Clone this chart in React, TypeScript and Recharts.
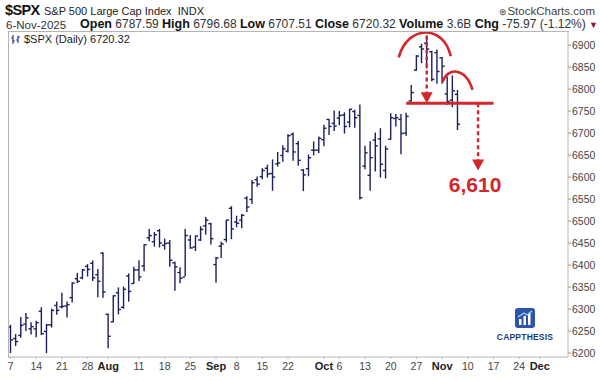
import { ComposedChart, Bar, XAxis, YAxis, ReferenceLine, ReferenceDot } from 'recharts';

const dates = [
  '2025-07-07', '2025-07-08', '2025-07-09', '2025-07-10', '2025-07-11',
  '2025-07-14', '2025-07-15', '2025-07-16', '2025-07-17', '2025-07-18',
  '2025-07-21', '2025-07-22', '2025-07-23', '2025-07-24', '2025-07-25',
  '2025-07-28', '2025-07-29', '2025-07-30', '2025-07-31', '2025-08-01',
  '2025-08-04', '2025-08-05', '2025-08-06', '2025-08-07', '2025-08-08',
  '2025-08-11', '2025-08-12', '2025-08-13', '2025-08-14', '2025-08-15',
  '2025-08-18', '2025-08-19', '2025-08-20', '2025-08-21', '2025-08-22',
  '2025-08-25', '2025-08-26', '2025-08-27', '2025-08-28', '2025-08-29',
  '2025-09-02', '2025-09-03', '2025-09-04', '2025-09-05',
  '2025-09-08', '2025-09-09', '2025-09-10', '2025-09-11', '2025-09-12',
  '2025-09-15', '2025-09-16', '2025-09-17', '2025-09-18', '2025-09-19',
  '2025-09-22', '2025-09-23', '2025-09-24', '2025-09-25', '2025-09-26',
  '2025-09-29', '2025-09-30', '2025-10-01', '2025-10-02', '2025-10-03',
  '2025-10-06', '2025-10-07', '2025-10-08', '2025-10-09', '2025-10-10',
  '2025-10-13', '2025-10-14', '2025-10-15', '2025-10-16', '2025-10-17',
  '2025-10-20', '2025-10-21', '2025-10-22', '2025-10-23', '2025-10-24',
  '2025-10-27', '2025-10-28', '2025-10-29', '2025-10-30', '2025-10-31',
  '2025-11-03', '2025-11-04', '2025-11-05', '2025-11-06',
];

const opens = [
  6259, 6233, 6240, 6266, 6255, 6255, 6295, 6249, 6264, 6308,
  6305, 6307, 6326, 6369, 6371, 6397, 6404, 6378, 6427, 6288,
  6271, 6337, 6304, 6375, 6358, 6389, 6398, 6462, 6453, 6478,
  6445, 6450, 6405, 6383, 6373, 6457, 6441, 6457, 6489, 6494,
  6401, 6443, 6458, 6529, 6498, 6502, 6552, 6549, 6594, 6601,
  6620, 6608, 6630, 6649, 6659, 6697, 6676, 6616, 6619, 6661,
  6661, 6685, 6731, 6722, 6734, 6741, 6725, 6749, 6740, 6625,
  6604, 6684, 6687, 6615, 6686, 6733, 6731, 6700, 6773, 6843,
  6896, 6904, 6885, 6883, 6871, 6789, 6775, 6788,
];

const highs = [
  6263, 6242, 6281, 6290, 6269, 6272, 6303, 6265, 6300, 6316,
  6336, 6316, 6360, 6381, 6390, 6401, 6409, 6390, 6428, 6288,
  6330, 6348, 6350, 6380, 6395, 6410, 6446, 6481, 6474, 6481,
  6459, 6456, 6407, 6394, 6481, 6467, 6466, 6487, 6508, 6495,
  6417, 6452, 6502, 6533, 6511, 6515, 6555, 6592, 6600, 6619,
  6627, 6639, 6656, 6671, 6696, 6700, 6681, 6617, 6650, 6680,
  6691, 6718, 6731, 6750, 6749, 6746, 6754, 6752, 6764, 6670,
  6680, 6700, 6710, 6670, 6744, 6742, 6742, 6745, 6808, 6876,
  6902, 6920, 6886, 6889, 6872, 6827, 6830, 6797,
];

const lows = [
  6201, 6217, 6236, 6251, 6243, 6237, 6242, 6201, 6259, 6288,
  6303, 6282, 6316, 6360, 6369, 6375, 6365, 6328, 6327, 6212,
  6271, 6289, 6302, 6318, 6358, 6365, 6387, 6455, 6443, 6441,
  6436, 6397, 6343, 6360, 6376, 6438, 6433, 6456, 6470, 6448,
  6361, 6417, 6453, 6460, 6487, 6485, 6522, 6540, 6579, 6596,
  6600, 6570, 6625, 6636, 6657, 6638, 6627, 6569, 6603, 6650,
  6656, 6671, 6697, 6706, 6719, 6700, 6714, 6713, 6550, 6619,
  6570, 6614, 6600, 6598, 6686, 6716, 6653, 6695, 6773, 6843,
  6860, 6848, 6819, 6813, 6813, 6765, 6760, 6708,
];

const closes = [
  6230, 6226, 6263, 6280, 6260, 6269, 6244, 6264, 6297, 6297,
  6306, 6310, 6359, 6363, 6389, 6390, 6371, 6363, 6339, 6238,
  6330, 6299, 6345, 6340, 6389, 6373, 6446, 6467, 6469, 6450,
  6449, 6411, 6396, 6370, 6467, 6439, 6466, 6481, 6502, 6460,
  6416, 6448, 6502, 6482, 6495, 6513, 6532, 6587, 6584, 6615,
  6607, 6600, 6632, 6664, 6694, 6657, 6638, 6605, 6644, 6661,
  6688, 6711, 6715, 6716, 6740, 6715, 6754, 6735, 6553, 6655,
  6644, 6671, 6629, 6664, 6735, 6735, 6699, 6738, 6792, 6875,
  6891, 6891, 6822, 6840, 6852, 6772, 6796, 6720,
];

// empty trading days to the right of the last bar
const futureDates = [
  '2025-11-07', '2025-11-10', '2025-11-11', '2025-11-12', '2025-11-13', '2025-11-14',
  '2025-11-17', '2025-11-18', '2025-11-19', '2025-11-20', '2025-11-21',
  '2025-11-24', '2025-11-25', '2025-11-26', '2025-11-28',
  '2025-12-01', '2025-12-02', '2025-12-03', '2025-12-04', '2025-12-05', '2025-12-08',
];

const tickDates = [
  '2025-07-07', '2025-07-14', '2025-07-21', '2025-07-28', '2025-08-01', '2025-08-11',
  '2025-08-18', '2025-08-25', '2025-09-02', '2025-09-08', '2025-09-15', '2025-09-22',
  '2025-10-01', '2025-10-06', '2025-10-13', '2025-10-20', '2025-10-27', '2025-11-03',
  '2025-11-10', '2025-11-17', '2025-11-24', '2025-12-01',
];
const tickLabels = [
  '7', '14', '21', '28', 'Aug', '11', '18', '25', 'Sep', '8', '15', '22',
  'Oct', '6', '13', '20', '27', 'Nov', '10', '17', '24', 'Dec',
];
const yTicks = [6200, 6250, 6300, 6350, 6400, 6450, 6500, 6550, 6600, 6650, 6700, 6750, 6800, 6850, 6900];

// annotation levels
const supportLevel = 6768;
const targetLevel = 6610;
const targetLabel = '6,610';

const RED = '#d3262a';
const NAVY = '#1b1f5e';
const FONT = 'Arial, "Liberation Sans", sans-serif';

const chartData = [
  ...dates.map((d, i) => ({ d, hl: [lows[i], highs[i]], o: opens[i], h: highs[i], l: lows[i], c: closes[i] })),
  ...futureDates.map((d) => ({ d })),
];

const OhlcShape = (props: any) => {
  const { x, y, width, height, payload } = props;
  if (!payload || payload.o == null || y == null || isNaN(y)) return null;
  const top = Math.min(y, y + height);
  const bot = Math.max(y, y + height);
  const k = (bot - top) / (payload.h - payload.l || 1);
  const cx = x + width / 2;
  const oy = top + (payload.h - payload.o) * k;
  const cy = top + (payload.h - payload.c) * k;
  return (
    <g stroke={NAVY} strokeWidth={1.4}>
      <line x1={cx} x2={cx} y1={top - 0.5} y2={bot + 0.5} />
      <line x1={cx - 2.6} x2={cx} y1={oy} y2={oy} />
      <line x1={cx} x2={cx + 2.6} y1={cy} y2={cy} />
    </g>
  );
};

const XTick = ({ x, y, payload }: any) => {
  const label = tickLabels[tickDates.indexOf(payload.value)];
  const bold = isNaN(Number(label));
  return (
    <text x={x} y={y + 9} textAnchor="middle" fontSize={bold ? 11 : 10.5} fontWeight={bold ? 700 : 400}
      fill={bold ? '#222' : '#444'} fontFamily={FONT}>
      {label}
    </text>
  );
};

const arrowHead = ({ cx, cy }: any) => (
  <path d={`M${cx - 6},${cy - 11} L${cx + 6},${cy - 11} L${cx},${cy} Z`} fill={RED} />
);

const bigArc = ({ cx, cy }: any) => (
  <path d={`M${cx - 28},${cy + 25} C${cx - 19},${cy - 8} ${cx + 17},${cy - 8} ${cx + 24},${cy + 24}`}
    fill="none" stroke={RED} strokeWidth={2.6} />
);

const smallArc = ({ cx, cy }: any) => (
  <path d={`M${cx - 15},${cy + 10} C${cx - 10},${cy - 5} ${cx + 8},${cy - 5} ${cx + 15},${cy + 18}`}
    fill="none" stroke={RED} strokeWidth={2.6} />
);

const targetText = ({ cx, cy }: any) => (
  <text x={cx - 3} y={cy} textAnchor="middle" dominantBaseline="central" fontSize={21} fontWeight={700}
    fill={RED} fontFamily={FONT}>
    {targetLabel}
  </text>
);

function Header() {
  const b = { fontWeight: 700, color: '#111', fontSize: 12.5 } as const;
  return (
    <>
      <div style={{ position: 'absolute', left: 5, top: 2, fontSize: 14.5, fontWeight: 700, color: '#111', letterSpacing: -0.6 }}>
        $SPX
      </div>
      <div style={{ position: 'absolute', left: 44, top: 5, fontSize: 11, color: '#222' }}>
        S&amp;P 500 Large Cap Index&nbsp;&nbsp;INDX
      </div>
      <div style={{ position: 'absolute', right: 5, top: 5, fontSize: 11.5, color: '#444' }}>
        <span style={{ fontSize: 9 }}>⊛</span>StockCharts.com
      </div>
      <div style={{ position: 'absolute', left: 6, top: 19, fontSize: 11.5, color: '#333', whiteSpace: 'nowrap' }}>
        6-Nov-2025
      </div>
      <div style={{ position: 'absolute', right: 2, top: 17, fontSize: 12, color: '#333', whiteSpace: 'nowrap' }}>
        <span style={b}>Open</span> 6787.59{' '}
        <span style={b}>High</span> 6796.68{' '}
        <span style={b}>Low</span> 6707.51{' '}
        <span style={b}>Close</span> 6720.32{' '}
        <span style={b}>Volume</span> 3.6B{' '}
        <span style={b}>Chg</span> -75.97 (-1.12%){' '}
        <span style={{ color: '#8a1538', fontSize: 9 }}>▼</span>
      </div>
    </>
  );
}

function Logo() {
  return (
    <div style={{ position: 'absolute', left: 494, top: 308, width: 62, textAlign: 'center' }}>
      <svg width={20} height={20} viewBox="0 0 20 20" style={{ display: 'block', margin: '0 auto' }}>
        <rect x={0} y={0} width={20} height={20} rx={3} fill="#2c55a8" />
        <rect x={4} y={11} width={2.5} height={6} fill="#fff" />
        <rect x={8.5} y={8} width={2.5} height={9} fill="#fff" />
        <rect x={13} y={5} width={2.5} height={12} fill="#fff" />
        <path d="M3,9 L9,5 L12,7 L17,3" stroke="#9fd0ff" strokeWidth={1.3} fill="none" />
      </svg>
      <div style={{ fontSize: 8.5, fontWeight: 700, color: '#1e3c7c', letterSpacing: 0.2, marginTop: 4 }}>
        CAPPTHESIS
      </div>
    </div>
  );
}

export default function App() {
  return (
    <div style={{ position: 'absolute', left: 0, top: 0, width: 600, height: 381, background: '#fff', fontFamily: FONT, overflow: 'hidden' }}>
      <Header />
      <div style={{ position: 'absolute', left: 0, top: 0 }}>
        <ComposedChart width={600} height={381} data={chartData} margin={{ top: 31, right: 0, bottom: 0, left: 8 }}>
          <XAxis
            dataKey="d"
            ticks={tickDates}
            interval={0}
            tick={<XTick />}
            height={24}
            axisLine={{ stroke: '#b5b5b5' }}
            tickLine={{ stroke: '#b5b5b5' }}
            tickSize={2}
          />
          <YAxis
            orientation="right"
            domain={[6191, 6932]}
            ticks={yTicks}
            width={32}
            allowDataOverflow
            tick={{ fontSize: 10.5, fill: '#444', fontFamily: FONT }}
            axisLine={{ stroke: '#b5b5b5' }}
            tickLine={{ stroke: '#999' }}
            tickSize={3}
            tickMargin={1}
          />
          <Bar dataKey="hl" shape={<OhlcShape />} isAnimationActive={false} />
          <ReferenceLine
            segment={[{ x: '2025-10-23', y: supportLevel }, { x: '2025-11-17', y: supportLevel }]}
            stroke={RED} strokeWidth={3} ifOverflow="visible"
          />
          <ReferenceLine
            segment={[{ x: '2025-10-29', y: 6922 }, { x: '2025-10-29', y: supportLevel + 22 }]}
            stroke={RED} strokeWidth={2.4} strokeDasharray="4 3" ifOverflow="visible"
          />
          <ReferenceDot x="2025-10-29" y={supportLevel} r={0} shape={arrowHead} ifOverflow="visible" />
          <ReferenceLine
            segment={[{ x: '2025-11-12', y: supportLevel }, { x: '2025-11-12', y: targetLevel + 28 }]}
            stroke={RED} strokeWidth={2.4} strokeDasharray="4 3" ifOverflow="visible"
          />
          <ReferenceDot x="2025-11-12" y={targetLevel + 5} r={0} shape={arrowHead} ifOverflow="visible" />
          <ReferenceDot x="2025-10-29" y={6929} r={0} shape={bigArc} ifOverflow="visible" />
          <ReferenceDot x="2025-11-06" y={6839} r={0} shape={smallArc} ifOverflow="visible" />
          <ReferenceDot x="2025-11-12" y={6584} r={0} shape={targetText} ifOverflow="visible" />
        </ComposedChart>
      </div>
      <div style={{ position: 'absolute', left: 8, top: 31, width: 560, height: 326, borderLeft: '1px solid #b5b5b5', borderTop: '1px solid #b5b5b5', pointerEvents: 'none' }} />
      <div style={{ position: 'absolute', left: 11, top: 33, fontSize: 11, color: '#222', whiteSpace: 'nowrap', display: 'flex', alignItems: 'center' }}>
        <svg width={10} height={11} style={{ marginRight: 3 }}>
          <g stroke="#2a3a9a" strokeWidth={1.2}>
            <line x1={2} x2={2} y1={1} y2={10} /><line x1={0} x2={2} y1={4} y2={4} /><line x1={2} x2={4} y1={7} y2={7} />
            <line x1={7} x2={7} y1={2} y2={9} /><line x1={5} x2={7} y1={6} y2={6} /><line x1={7} x2={9} y1={3} y2={3} />
          </g>
        </svg>
        $SPX (Daily) 6720.32
      </div>
      <Logo />
    </div>
  );
}
